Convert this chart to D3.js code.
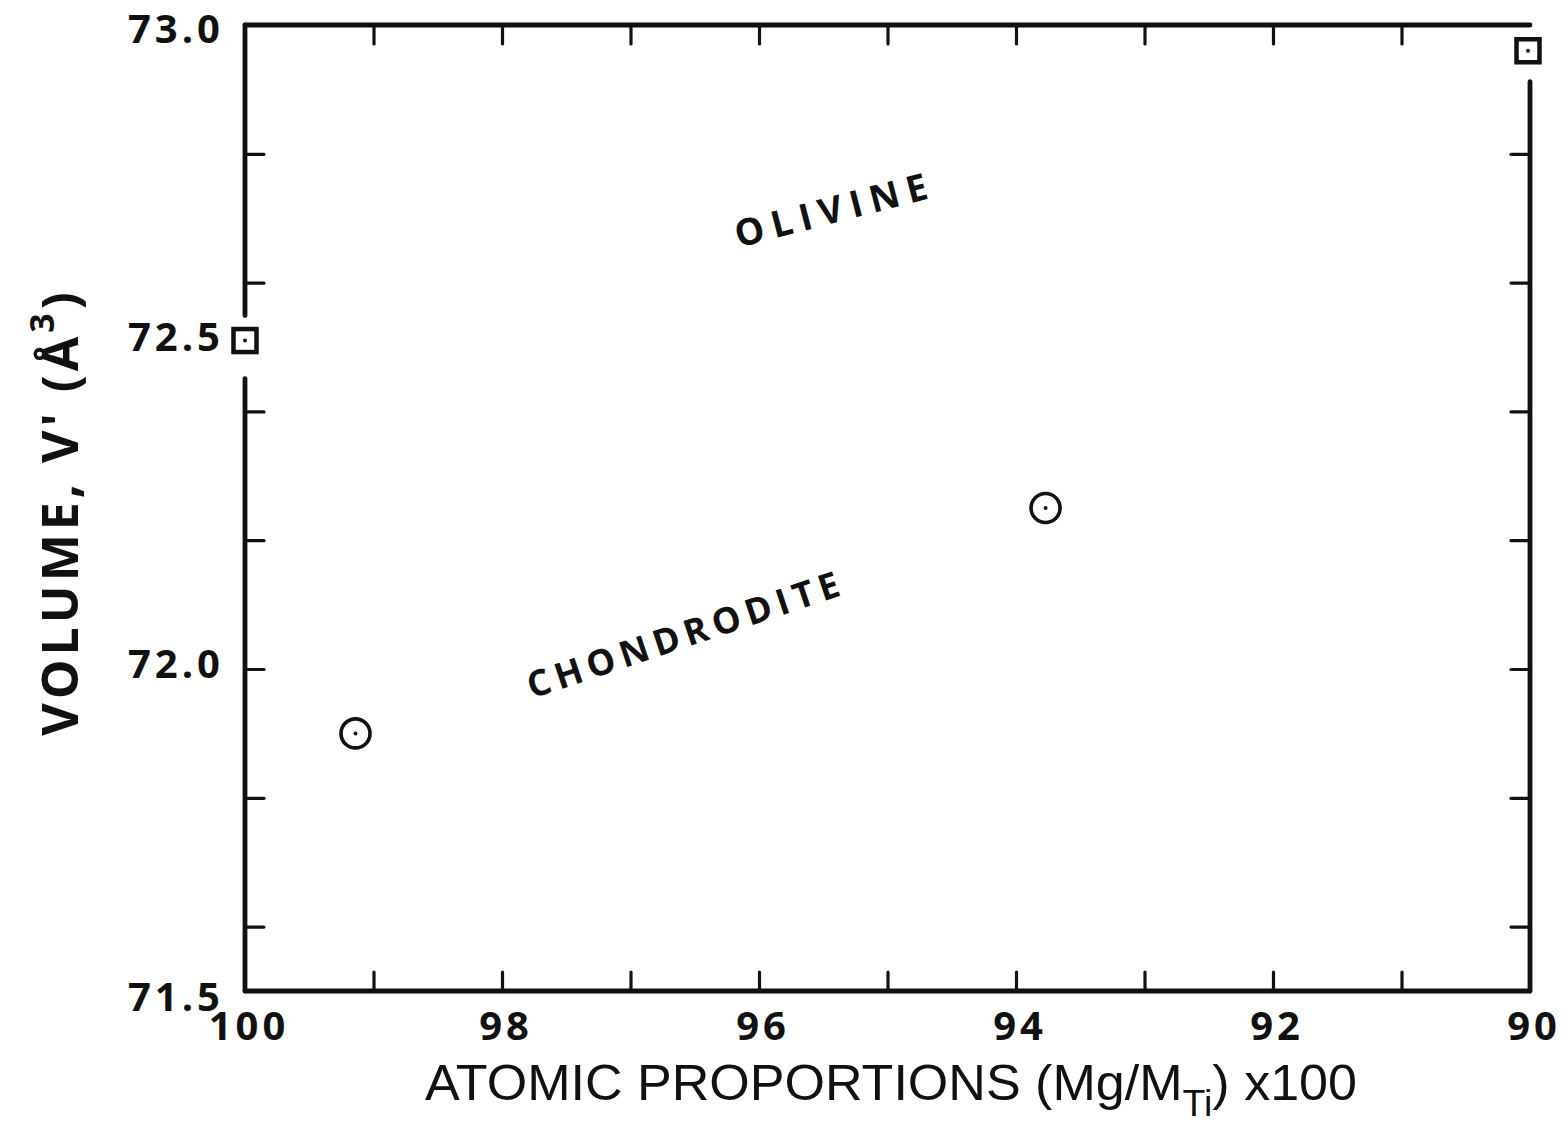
<!DOCTYPE html>
<html>
<head>
<meta charset="utf-8">
<script src="https://cdn.jsdelivr.net/npm/d3@7/dist/d3.min.js"></script>
<style>
  html, body { margin: 0; padding: 0; background: #fff; }
  svg { display: block; }
  .lbl { font-family: "Open Sans", "DejaVu Sans", sans-serif; font-weight: 700; fill: #111; }
</style>
</head>
<body>
<svg id="chart" width="1566" height="1144"></svg>
<script>
// Mg content (atomic proportion Mg/M_Ti x 100) and cell volume V' (Å^3)
const olivine = [
  { mg: 100, v: 72.51 },
  { mg: 90,  v: 72.96 }
];
const chondrodite = [
  { mg: 99.14, v: 71.90 },
  { mg: 93.77, v: 72.25 }
];
const xTickValues = [100, 99, 98, 97, 96, 95, 94, 93, 92, 91, 90];
const xTickLabels = [100, 98, 96, 94, 92, 90];
const yTickValues = [71.6, 71.8, 72.0, 72.2, 72.4, 72.6, 72.8];
const yTickLabels = [71.5, 72.0, 72.5, 73.0];

const svg = d3.select("#chart");
const x = d3.scaleLinear().domain([100, 90]).range([245, 1530]);
const y = d3.scaleLinear().domain([71.5, 73.0]).range([991, 25]);

const ink = "#111";
const frame = svg.append("g").attr("stroke", ink).attr("stroke-linecap", "round").attr("fill", "none");
const x0 = x(100), x1 = x(90), yTop = y(73.0), yBot = y(71.5);

// Frame: top and bottom full; side axes broken where the end-member squares sit on them
const sqL = y(olivine[0].v), sqR = y(olivine[1].v);
const segs = [
  [x0, yTop, x1, yTop],
  [x0, yBot, x1, yBot],
  [x0, yTop, x0, sqL - 25],
  [x0, sqL + 38, x0, yBot],
  [x1, sqR + 31, x1, yBot]
];
frame.selectAll("line.frame").data(segs).join("line")
  .attr("class", "frame")
  .attr("x1", d => d[0]).attr("y1", d => d[1])
  .attr("x2", d => d[2]).attr("y2", d => d[3])
  .attr("stroke-width", 4.8);

// Tick marks, all pointing into the plot
const tickLen = 19;
const xAxisBottom = d3.axisTop(x).tickValues(xTickValues.slice(1, -1)).tickSize(tickLen).tickFormat("");
const xAxisTop = d3.axisBottom(x).tickValues(xTickValues.slice(1, -1)).tickSize(tickLen).tickFormat("");
const yAxisLeft = d3.axisRight(y).tickValues(yTickValues).tickSize(tickLen).tickFormat("");
const yAxisRight = d3.axisLeft(y).tickValues(yTickValues).tickSize(tickLen).tickFormat("");

function styleAxis(g) {
  g.select(".domain").remove();
  g.selectAll(".tick line").attr("stroke", ink).attr("stroke-width", 3.2).attr("stroke-linecap", "round");
}
svg.append("g").attr("transform", `translate(0,${yBot})`).call(xAxisBottom).call(styleAxis);
svg.append("g").attr("transform", `translate(0,${yTop})`).call(xAxisTop).call(styleAxis);
svg.append("g").attr("transform", `translate(${x0},0)`).call(yAxisLeft).call(styleAxis);
svg.append("g").attr("transform", `translate(${x1},0)`).call(yAxisRight).call(styleAxis);

// Tick labels
svg.append("g").selectAll("text").data(xTickLabels).join("text")
  .attr("class", "lbl")
  .attr("x", d => x(d) + 4)
  .attr("y", 1040)
  .attr("text-anchor", "middle")
  .attr("font-size", 40)
  .attr("letter-spacing", 4)
  .text(d => d);

// small vertical nudges keep the corner labels clear of the frame
const yLabelNudge = { "73.0": 4, "72.5": -10, "72.0": -5, "71.5": 6 };
svg.append("g").selectAll("text").data(yTickLabels).join("text")
  .attr("class", "lbl")
  .attr("x", 224)
  .attr("y", d => y(d) + yLabelNudge[d.toFixed(1)])
  .attr("dy", "0.36em")
  .attr("text-anchor", "end")
  .attr("font-size", 40)
  .attr("letter-spacing", 4)
  .text(d => d.toFixed(1));

// Axis titles
const xt = svg.append("text")
  .attr("x", 425).attr("y", 1100)
  .attr("font-family", "'Liberation Sans', Arial, sans-serif")
  .attr("font-size", 50)
  .attr("fill", ink)
  .attr("textLength", 932)
  .attr("lengthAdjust", "spacingAndGlyphs");
xt.append("tspan").text("ATOMIC  PROPORTIONS  (Mg/M");
xt.append("tspan").attr("font-size", 36).attr("dy", 16).text("Ti");
xt.append("tspan").attr("dy", -16).text(") x100");

const yt = svg.append("text")
  .attr("class", "lbl")
  .attr("transform", "translate(78,512) rotate(-90)")
  .attr("text-anchor", "middle")
  .attr("font-size", 50)
  .attr("letter-spacing", 4);
yt.append("tspan").text("VOLUME, V' (Å");
yt.append("tspan").attr("font-size", 34).attr("dy", -24).text("3");
yt.append("tspan").attr("dy", 24).text(")");

// Field labels
svg.append("text")
  .attr("class", "lbl")
  .attr("transform", "translate(838,222) rotate(-14.5)")
  .attr("text-anchor", "middle")
  .attr("font-size", 37)
  .attr("letter-spacing", 8)
  .text("OLIVINE");

svg.append("text")
  .attr("class", "lbl")
  .attr("transform", "translate(690,646) rotate(-18.5)")
  .attr("text-anchor", "middle")
  .attr("font-size", 36)
  .attr("letter-spacing", 6)
  .text("CHONDRODITE");

// Olivine end members: open square with centre dot
const sq = svg.append("g").selectAll("g").data(olivine).join("g")
  .attr("transform", d => `translate(${x(d.mg) + (d.mg === 90 ? -2 : 0)},${y(d.v)})`);
sq.append("rect").attr("x", -11.5).attr("y", -11.5).attr("width", 23).attr("height", 23)
  .attr("fill", "#fff").attr("stroke", ink).attr("stroke-width", 4.5);
sq.append("circle").attr("r", 2).attr("fill", ink);

// Chondrodite samples: open circle with centre dot
const ci = svg.append("g").selectAll("g").data(chondrodite).join("g")
  .attr("transform", d => `translate(${x(d.mg)},${y(d.v)})`);
ci.append("circle").attr("r", 14.5).attr("fill", "none").attr("stroke", ink).attr("stroke-width", 3.6);
ci.append("circle").attr("r", 2).attr("fill", ink);
</script>
</body>
</html>
